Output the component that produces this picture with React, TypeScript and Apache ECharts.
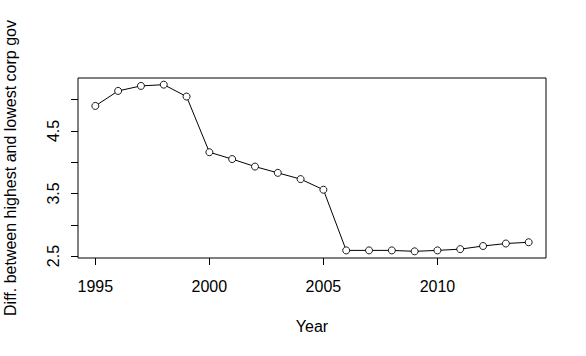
import React, { useEffect, useRef } from "react";
import * as echarts from "echarts";

const years = [1995, 1996, 1997, 1998, 1999, 2000, 2001, 2002, 2003, 2004, 2005, 2006, 2007, 2008, 2009, 2010, 2011, 2012, 2013, 2014];
const diffs = [4.90, 5.14, 5.22, 5.24, 5.05, 4.16, 4.05, 3.93, 3.83, 3.73, 3.56, 2.59, 2.59, 2.59, 2.575, 2.59, 2.61, 2.66, 2.70, 2.72];
const xTicks = [1995, 2000, 2005, 2010];
const yTicks = [2.5, 3.0, 3.5, 4.0, 4.5, 5.0];
const yLabels = [2.5, 3.5, 4.5];

const FONT = "'Liberation Sans', Arial, sans-serif";

export default function App() {
  const ref = useRef<HTMLDivElement>(null);
  useEffect(() => {
    if (!ref.current) return;
    const chart = echarts.init(ref.current, null, { renderer: "svg" });
    const xMin = Math.min(...years), xMax = Math.max(...years);
    const yMin = Math.min(...diffs), yMax = Math.max(...diffs);
    const xPad = (xMax - xMin) * 0.04, yPad = (yMax - yMin) * 0.04;
    chart.setOption({
      animation: false,
      backgroundColor: "#ffffff",
      grid: {
        left: 78, right: 40, top: 78, bottom: 98,
        outerBoundsMode: "none",
        containLabel: false,
        show: true, borderColor: "#000", borderWidth: 1, backgroundColor: "transparent",
      },
      xAxis: {
        type: "value",
        min: xMin - xPad,
        max: xMax + xPad,
        name: "Year",
        nameLocation: "middle",
        nameGap: 60,
        nameTextStyle: { fontFamily: FONT, fontSize: 16, color: "#000" },
        axisLine: { show: false },
        splitLine: { show: false },
        axisTick: { show: true, length: 7, inside: false, customValues: xTicks, lineStyle: { color: "#000", width: 1 } },
        axisLabel: {
          customValues: xTicks, margin: 20,
          fontFamily: FONT, fontSize: 16, color: "#000",
          formatter: (v: number) => String(v),
        },
      },
      yAxis: {
        type: "value",
        min: yMin - yPad,
        max: yMax + yPad,
        name: "Diff. between highest and lowest corp gov",
        nameLocation: "middle",
        nameGap: 60,
        nameRotate: 90,
        nameTextStyle: { fontFamily: FONT, fontSize: 16, color: "#000" },
        axisLine: { show: false },
        splitLine: { show: false },
        axisTick: { show: true, length: 7, inside: false, customValues: yTicks, lineStyle: { color: "#000", width: 1 } },
        axisLabel: {
          customValues: yLabels, margin: 17, rotate: 90,
          fontFamily: FONT, fontSize: 16, color: "#000",
          formatter: (v: number) => v.toFixed(1),
        },
      },
      series: [
        {
          type: "line",
          data: years.map((y, i) => [y, diffs[i]]),
          symbol: "circle",
          symbolSize: 7,
          lineStyle: { color: "#000", width: 1 },
          itemStyle: { color: "#ffffff", borderColor: "#000", borderWidth: 0.9 },
        },
      ],
    });
    return () => chart.dispose();
  }, []);
  return <div ref={ref} style={{ position: "fixed", left: 0, top: 0, width: 586, height: 356 }} />;
}
